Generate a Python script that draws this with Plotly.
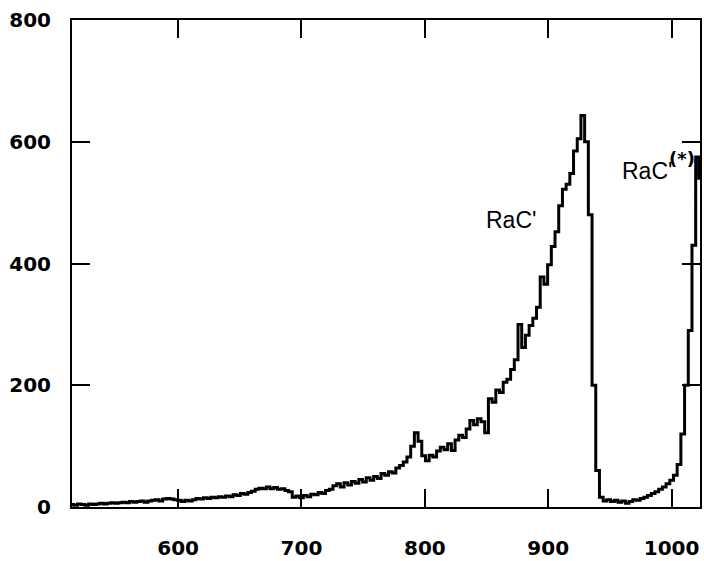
import plotly.graph_objects as go

# Channel numbers (every 3rd channel) and counts
channels = list(range(514, 1022, 3)) + [1023]
counts = [
    4, 3, 5, 4, 3, 5, 4, 5, 6, 5, 6, 7, 6, 7, 8, 7, 9, 8, 9, 10,
    8, 10, 11, 12, 10, 13, 14, 13, 12, 11, 9, 11, 10, 12, 14, 13, 15, 14, 16, 15,
    17, 16, 18, 17, 20, 19, 22, 21, 24, 26, 29, 31, 30, 33, 30, 32, 29, 30, 27, 25,
    16, 18, 15, 19, 17, 21, 20, 24, 22, 27, 29, 35, 38, 33, 40, 36, 42, 39, 45, 41,
    48, 44, 50, 47, 55, 52, 58, 56, 64, 68, 74, 82, 100, 122, 108, 84, 76, 85, 82, 92,
    98, 94, 104, 93, 110, 118, 114, 128, 142, 135, 145, 140, 122, 178, 172, 192, 188, 205, 210, 226,
    242, 300, 262, 282, 298, 310, 328, 378, 366, 398, 428, 452, 495, 522, 530, 548, 585, 605, 643, 600,
    480, 200, 60, 16, 10, 12, 9, 11, 8, 10, 6, 9, 12, 11, 14, 16, 19, 22, 25, 29,
    33, 38, 44, 52, 70, 120, 200, 290, 430, 575, 540,
]

x_ticks = [600, 700, 800, 900, 1000]
y_ticks = [0, 200, 400, 600, 800]

label_main = "RaC'"
label_second = "RaC'"
label_second_sup = "(*)"

fig = go.Figure()
fig.add_trace(go.Scatter(
    x=channels, y=counts, mode="lines",
    line=dict(color="black", width=3, shape="hvh"),
    showlegend=False,
))

axis_common = dict(
    showline=True, linecolor="black", linewidth=2,
    mirror="ticks", ticks="inside", ticklen=18, tickwidth=2, tickcolor="black",
    showgrid=False, zeroline=False, automargin=False,
    tickfont=dict(family="DejaVu Sans", size=20, color="black", weight="bold"),
)

fig.update_xaxes(range=[514, 1023], tickvals=x_ticks, ticklabelstandoff=22, **axis_common)
fig.update_yaxes(range=[0, 800], tickvals=y_ticks, ticklabelstandoff=15, **axis_common)

fig.add_annotation(x=870, y=472, text=label_main, showarrow=False,
                   font=dict(family="Liberation Sans", size=23, color="black"))
fig.add_annotation(x=958, y=552, text=label_second, showarrow=False, xanchor="left",
                   font=dict(family="Liberation Sans", size=23, color="black"))
fig.add_annotation(x=996, y=572, text=label_second_sup, showarrow=False, xanchor="left",
                   font=dict(family="DejaVu Sans", size=18, color="black", weight="bold"))

fig.update_layout(
    width=704, height=561,
    margin=dict(l=72, r=4, t=20, b=54),
    paper_bgcolor="white", plot_bgcolor="white",
)

fig.write_html(
    "out.html",
    config={"displayModeBar": False},
    post_script="document.body.style.margin='0';document.body.style.overflow='hidden';",
)
